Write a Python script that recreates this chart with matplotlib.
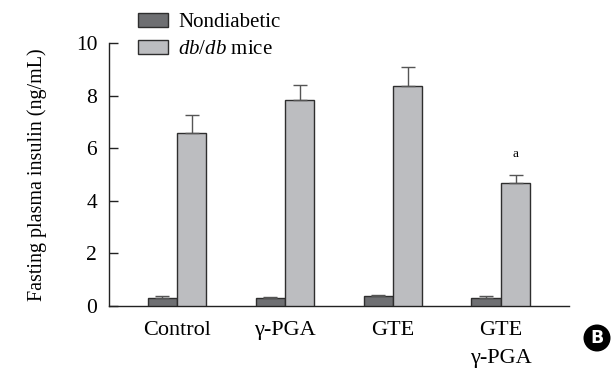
import matplotlib

matplotlib.use("Agg")
import matplotlib.pyplot as plt
import numpy as np
from matplotlib.patches import Circle

plt.rcParams["font.family"] = ["Liberation Serif", "DejaVu Serif"]
plt.rcParams["mathtext.fontset"] = "custom"
plt.rcParams["mathtext.rm"] = "Liberation Serif"
plt.rcParams["mathtext.it"] = "Liberation Serif:italic"

categories = ["Control", "γ-PGA", "GTE", "GTE\nγ-PGA"]
nondiabetic = [0.32, 0.30, 0.37, 0.30]
nondiabetic_err = [0.05, 0.04, 0.04, 0.07]
dbdb = [6.58, 7.85, 8.37, 4.67]
dbdb_err = [0.68, 0.55, 0.71, 0.32]
marks = ["", "", "", "a"]

DARK = "#6e6f72"
LIGHT = "#bcbdc0"
EDGE = "#2e2e2e"
ERR = "#555555"

fig = plt.figure(figsize=(6.14, 3.70), dpi=100)
ax = fig.add_axes([0.1775, 0.173, 0.7492, 0.710])

x = np.arange(len(categories))
w = 0.273
err_kw = dict(ecolor=ERR, elinewidth=1.0, capsize=5.2, capthick=1.0)

ax.bar(x - w / 2, nondiabetic, w, color=DARK, edgecolor=EDGE, linewidth=1.0,
       yerr=[np.zeros(4), nondiabetic_err], error_kw=err_kw, label="Nondiabetic",
       zorder=3)
ax.bar(x + w / 2, dbdb, w, color=LIGHT, edgecolor=EDGE, linewidth=1.0,
       yerr=[np.zeros(4), dbdb_err], error_kw=err_kw,
       label=r"$\it{db/db}$ mice", zorder=3)

for xi, v, e, m in zip(x, dbdb, dbdb_err, marks):
    if m:
        ax.text(xi + w / 2, v + e + 0.8, m, ha="center", va="center", fontsize=9.5)

ax.set_xlim(-0.63, 3.63)
ax.set_ylim(0, 10)
ax.set_yticks([0, 2, 4, 6, 8, 10])
ax.set_xticks(x)
ax.set_xticklabels(categories, fontsize=16, linespacing=1.62, va="top")
ax.tick_params(axis="x", length=0, pad=11)
ax.tick_params(axis="y", direction="in", length=6.5, width=1.0, labelsize=15.5,
               pad=8.5, color="#222222")
for s in ("top", "right"):
    ax.spines[s].set_visible(False)
for s in ("left", "bottom"):
    ax.spines[s].set_linewidth(1.0)
    ax.spines[s].set_color("#222222")

ax.set_ylabel("Fasting plasma insulin (ng/mL)", fontsize=14.5)
ax.yaxis.set_label_coords(-0.135, 0.5)

ax.legend(loc="upper left", bbox_to_anchor=(0.063, 1.115), frameon=False,
          fontsize=15, handlelength=1.44, handleheight=0.67, handletextpad=0.48,
          labelspacing=0.35, borderaxespad=0, borderpad=0)

# panel badge
fig.patches.append(Circle((5.97, 0.32), 0.135, transform=fig.dpi_scale_trans,
                          facecolor="black", edgecolor="none"))
fig.text(5.97 / 6.14, 0.32 / 3.70, "B", color="white", fontsize=12.5,
         fontweight="bold", family="DejaVu Sans", ha="center", va="center")

fig.savefig("out.png", dpi=100)
